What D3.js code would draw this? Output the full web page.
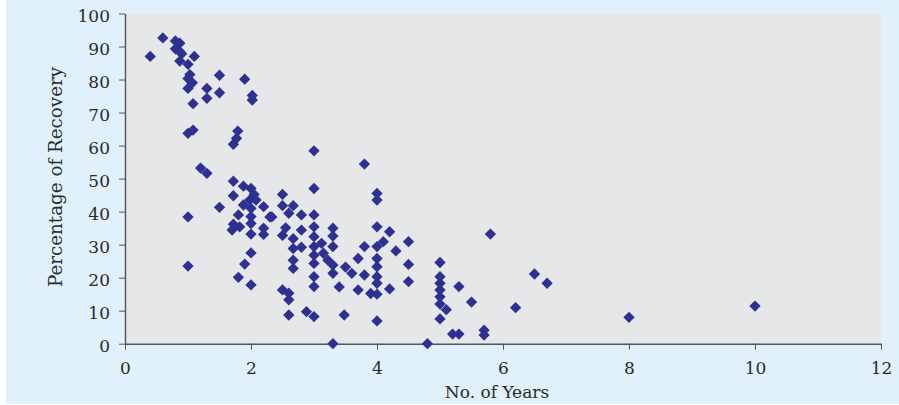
<!DOCTYPE html>
<html>
<head>
<meta charset="utf-8">
<script src="https://cdn.jsdelivr.net/npm/d3@7"></script>
<style>
  html, body { margin: 0; padding: 0; background: #ffffff; }
  svg { display: block; }
</style>
</head>
<body>
<svg id="chart" width="899" height="405"></svg>
<script>
// Years since onset vs. percentage of recovery
const years = [
  0.4, 0.6, 0.8, 0.87, 0.8, 0.87, 0.9, 0.87, 1.0, 1.1, 1.0, 1.07, 1.0, 1.3, 1.3, 1.08, 1.5, 1.5, 1.9, 2.02, 2.02, 1.03,
  1.0, 1.08, 1.79, 1.77, 1.72, 1.2, 1.3, 1.72, 1.88, 2.0, 2.05, 1.72, 1.88, 1.5, 1.0, 1.98, 2.08, 2.0, 2.2, 2.3,
  1.8, 1.72, 1.82, 1.7, 2.0, 2.0, 2.2, 2.2, 2.0, 2.0, 1.9, 1.8, 2.0, 1.0,
  2.5, 2.5, 2.67, 2.6, 2.8, 3.0, 2.55, 2.5, 2.8, 3.0, 3.0, 3.3, 3.3, 2.67, 2.67, 2.8, 3.0, 3.12, 3.3, 3.15,
  3.0, 3.0, 3.22, 2.67, 2.67, 3.0, 3.0, 3.3, 3.3, 3.4, 3.5, 3.6, 3.7, 3.8, 3.8, 3.7, 3.9,
  4.0, 4.0, 4.0, 4.0, 4.0, 4.0, 4.0, 4.1, 4.2, 4.3, 4.2, 4.5, 4.5, 4.5,
  2.6, 2.5, 2.6, 2.6, 2.88, 3.0, 3.48, 4.0, 3.3, 4.8,
  5.0, 5.0, 5.0, 5.0, 5.0, 5.0, 5.1, 5.0, 5.3, 5.5, 5.2, 5.3, 5.7, 5.7, 5.8, 6.2, 6.5, 6.7, 8.0, 10.0,
  3.0, 3.8, 3.0, 4.0, 4.0, 2.33
];
const recovery = [
  87, 92.6, 91.7, 91, 89.3, 88.5, 87.8, 85.6, 84.6, 87, 80.3, 79, 77.3, 77.3, 74.3, 72.7, 81.3, 76, 80.1, 75.2, 73.8, 81.5,
  63.7, 64.7, 64.4, 62.2, 60.4, 53.2, 51.6, 49.2, 47.7, 47, 45.2, 44.8, 42, 41.3, 38.4, 43.5, 43.5, 41, 41.5, 38.4,
  39, 36.2, 35.4, 34.4, 36.4, 33.2, 35, 33.1, 38.5, 27.5, 24.1, 20.1, 17.8, 23.5,
  45.2, 41.8, 41.8, 39.5, 39, 39, 35.1, 32.8, 34.4, 35.4, 32.4, 35, 32.6, 31.8, 28.8, 29.2, 29.4, 30.4, 29.4, 27.4,
  26.8, 24.3, 25.3, 25.3, 22.8, 20.3, 17.3, 23.8, 21.3, 17.2, 23.2, 21.3, 25.8, 29.4, 20.8, 16.3, 15.2,
  29.4, 25.8, 23.3, 20.3, 18.3, 15, 35.4, 30.9, 33.9, 28.1, 16.6, 30.9, 24, 18.8,
  15.3, 16.3, 13.3, 8.7, 9.7, 8.2, 8.7, 6.9, 0, 0,
  24.6, 20.3, 18.3, 16.3, 14.2, 7.5, 10.3, 12.0, 17.3, 12.6, 2.9, 2.9, 4.1, 2.6, 33.2, 10.9, 21.1, 18.3, 8.0, 11.4,
  58.4, 54.4, 47, 45.5, 43.5, 38.4
];
const xTicks = [0, 2, 4, 6, 8, 10, 12];
const yTicks = [0, 10, 20, 30, 40, 50, 60, 70, 80, 90, 100];
const xTitle = "No. of Years";
const yTitle = "Percentage of Recovery";

const points = years.map((v, i) => ({ x: v, y: recovery[i] }));

const svg = d3.select("#chart");
const W = 899, H = 405;
const plot = { left: 125, right: 881, top: 13.5, bottom: 343.7 };

// Panel background
svg.append("rect")
  .attr("x", 6).attr("y", 0)
  .attr("width", W - 6).attr("height", 404)
  .attr("fill", "#e0f1fb");

const x = d3.scaleLinear().domain([0, 12]).range([plot.left, plot.right]);
const y = d3.scaleLinear().domain([0, 100]).range([plot.bottom, plot.top]);

// Plot area
svg.append("rect")
  .attr("x", plot.left).attr("y", plot.top)
  .attr("width", plot.right - plot.left).attr("height", plot.bottom - plot.top)
  .attr("fill", "#e6e7e9");

const fontFamily = "'DejaVu Serif', 'Liberation Serif', serif";
const textColor = "#2a2a2a";

// Axes
const xAxis = svg.append("g")
  .attr("transform", `translate(0,${plot.bottom})`)
  .call(d3.axisBottom(x).tickValues(xTicks).tickFormat(d3.format("d")).tickSizeInner(6).tickSizeOuter(0).tickPadding(12));
const yAxis = svg.append("g")
  .attr("transform", `translate(${plot.left},0)`)
  .call(d3.axisLeft(y).tickValues(yTicks).tickFormat(d3.format("d")).tickSizeInner(6).tickSizeOuter(0).tickPadding(9));

[xAxis, yAxis].forEach(g => {
  g.select(".domain").attr("stroke", "#555555").attr("stroke-width", 1.4);
  g.selectAll(".tick line").attr("stroke", "#555555").attr("stroke-width", 1);
  g.selectAll(".tick text")
    .attr("fill", textColor)
    .style("font-family", fontFamily)
    .style("font-size", "17px");
});
yAxis.selectAll(".tick text").attr("dy", "0.48em");

// Points
const diamond = d3.symbol().type(d3.symbolSquare).size(64);
svg.append("g")
  .selectAll("path")
  .data(points)
  .join("path")
  .attr("d", diamond)
  .attr("transform", d => `translate(${x(d.x)},${y(d.y)}) rotate(45)`)
  .attr("fill", "#2e3192");

// Axis titles
svg.append("text")
  .attr("x", 497)
  .attr("y", 398)
  .attr("text-anchor", "middle")
  .attr("fill", textColor)
  .style("font-family", fontFamily)
  .style("font-size", "17px")
  .text(xTitle);

svg.append("text")
  .attr("transform", `translate(62,177) rotate(-90)`)
  .attr("text-anchor", "middle")
  .attr("fill", textColor)
  .style("font-family", fontFamily)
  .style("font-size", "18.3px")
  .text(yTitle);
</script>
</body>
</html>
